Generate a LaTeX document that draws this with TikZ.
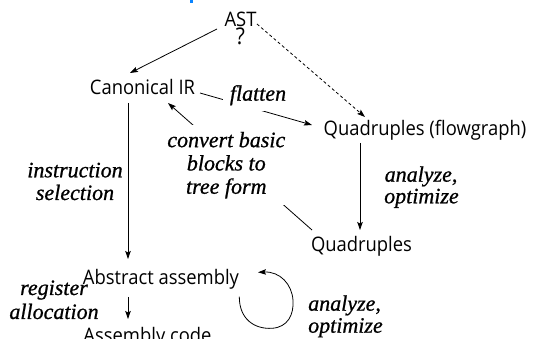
\documentclass[tikz,border=0pt]{standalone}
\usepackage{fontspec}
\newfontfamily\stagefont[FakeStretch=0.92]{Open Sans}
\newfontfamily\notefont[FakeBold=0.8]{Liberation Serif}
\usetikzlibrary{arrows.meta,calc}
\definecolor{titleblue}{RGB}{10,132,255}
\begin{document}
\begin{tikzpicture}[x=1pt,y=-1pt,
  stage/.style={font=\stagefont\fontsize{20}{24}\selectfont, inner sep=0pt, anchor=base},
  note/.style={font=\notefont\itshape\fontsize{22}{23.3}\selectfont, inner sep=0pt},
  arr/.style={line width=0.8pt, -{Stealth[length=8pt,width=5.5pt,inset=1.5pt]}},
]
\useasboundingbox (0,0) rectangle (536,339);
\clip (0,0) rectangle (536,339);

% remnant of the heading above the figure
\fill[titleblue] (189.5,0) rectangle (193,3.3);

% compiler stages
\node[stage] (ast)   at (240.5,26.7) {AST};
\node[stage, font=\stagefont\fontsize{23}{26}\selectfont] (qm) at (240.5,44.5) {?};
\node[stage] (canon) at (142.5,94.3) {Canonical IR};
\node[stage] (qflow) at (425,136)    {Quadruples (flowgraph)};
\node[stage] (qd)    at (361.5,252)  {Quadruples};
\node[stage] (abs)   at (161,284.5)  {Abstract assembly};
\node[stage] (asm)   at (147.5,342.5){Assembly code};

% transformations
\draw[arr] ($(ast.base)+(-23.5,2.3)$) -- ($(canon.base)+(-12.5,-21.3)$);
\draw[arr, dash pattern=on 3pt off 2.5pt] ($(ast.base)+(16.5,-2.7)$) -- ($(qflow.base)+(-60,-19)$);
\draw[arr] ($(canon.base)+(57.5,-1.3)$) -- ($(qflow.base)+(-113,-11)$);
\draw[arr] ($(qd.base)+(-49.5,-22)$) -- ($(canon.base)+(25.5,8.7)$);
\draw[arr] ($(qflow.base)+(-65,7)$) -- ($(qd.base)+(-1.5,-22)$);
\draw[arr] ($(canon.base)+(-14.5,8.7)$) -- ($(abs.base)+(-33,-25.5)$);
\draw[arr] ($(abs.base)+(-33,12.5)$) -- ($(asm.base)+(-19.5,-23.5)$);
% optimisation loop on the abstract assembly
\draw[arr] ($(abs.base)+(78.3,12.2)$)
  .. controls +(0,23) and +(-17,1) .. ++(32.7,31.6)
  .. controls +(16,-1) and +(1,14) .. ++(21,-28)
  .. controls +(-1,-16) and +(22,-1) .. ++(-35,-28);

% edge labels
\node[note, anchor=base, fill=white, inner xsep=7pt, inner ysep=6pt] (flat) at (258,100.7) {flatten};
\node[note, anchor=north, fill=white, inner sep=7pt, align=center] (conv) at (226.3,124.7)
  {convert basic\\blocks to\\tree form};
\node[note, anchor=base] (instr1) at (75,177.3) {instruction};
\node[note, anchor=base] (instr2) at (75,200)   {selection};
\node[note, anchor=base west] (opt1a) at (384.5,181.7) {analyze,};
\node[note, anchor=base west] (opt1b) at (384,203.3)   {optimize};
\node[note, anchor=base] (reg1) at (54,295) {register};
\node[note, anchor=base] (reg2) at (54,319) {allocation};
\node[note, anchor=base west] (opt2a) at (308,310.7) {analyze,};
\node[note, anchor=base west] (opt2b) at (308,332.7) {optimize};
\end{tikzpicture}
\end{document}
